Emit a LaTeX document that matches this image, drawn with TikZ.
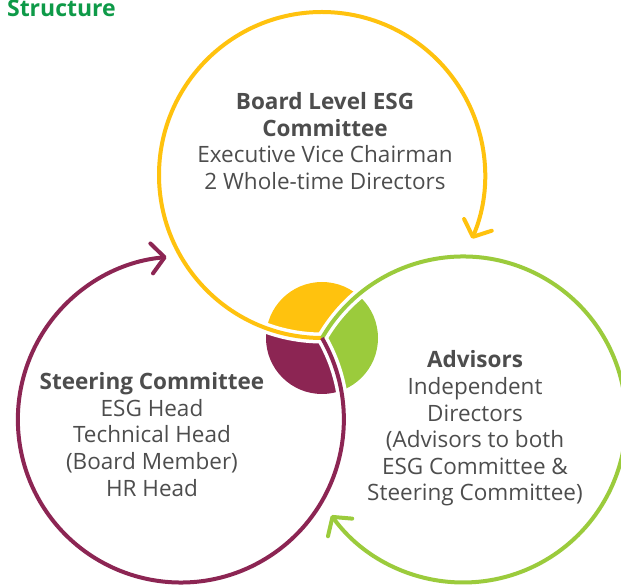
\documentclass[tikz,border=0pt]{standalone}
\usepackage{fontspec}
\setmainfont{Open Sans}
\usetikzlibrary{arrows.meta}

\definecolor{esgyellow}{HTML}{FFC20E}
\definecolor{esggreen}{HTML}{9BCB3C}
\definecolor{esgmaroon}{HTML}{8C2553}
\definecolor{esgtext}{HTML}{4D4D4D}
\definecolor{esgtitle}{HTML}{0E9A48}

\begin{document}
\begin{tikzpicture}[
        x=1pt, y=1pt,
        ring/.style={line width=4pt, -{Straight Barb[length=13pt, width=30pt, line cap=round, line join=round]}},
        ringgap/.style={white, line width=11pt},
        ringtext/.style={text=esgtext, align=center, font=\fontsize{22.5}{26.6}\selectfont},
        ]
        \useasboundingbox (0,0) rectangle (621,586);

        \node[anchor=base east, inner sep=0pt, text=esgtitle, font=\bfseries\fontsize{23}{23}\selectfont] (title) at (116,569) {Structure};

        \coordinate (hub) at (322,248);
        \coordinate (board) at ([shift={(90:163pt)}]hub);
        \coordinate (advisor) at ([shift={(-30:163pt)}]hub);
        \coordinate (steer) at ([shift={(210:163pt)}]hub);

        % the three parts of the small disc in the middle
        \begin{scope}
        \clip (hub) circle (56pt);
        \clip (board) circle (163pt);
        \fill[esgyellow, even odd rule] (hub) circle (80pt) (advisor) circle (163pt);
        \end{scope}
        \begin{scope}
        \clip (hub) circle (56pt);
        \clip (advisor) circle (163pt);
        \fill[esggreen, even odd rule] (hub) circle (80pt) (steer) circle (163pt);
        \end{scope}
        \begin{scope}
        \clip (hub) circle (56pt);
        \clip (steer) circle (163pt);
        \fill[esgmaroon, even odd rule] (hub) circle (80pt) (board) circle (163pt);
        \end{scope}

        \draw[ringgap] (hub) arc[start angle=270, end angle=-23, radius=163pt];
        \draw[ringgap] (hub) arc[start angle=150, end angle=-144, radius=163pt];
        \draw[ringgap] (hub) arc[start angle=30, end angle=-265, radius=163pt];

        \draw[ring, esgyellow] (hub) arc[start angle=270, end angle=-23, radius=163pt];
        \draw[ring, esggreen] (hub) arc[start angle=150, end angle=-144, radius=163pt];
        \draw[ring, esgmaroon] (hub) arc[start angle=30, end angle=-265, radius=163pt];

        \node[ringtext] (boardtxt) at (325,445) {\textbf{Board Level ESG}\\\textbf{Committee}\\Executive Vice Chairman\\2 Whole-time Directors};
        \node[ringtext] (steertxt) at (152,151.5) {\textbf{Steering Committee}\\ESG Head\\Technical Head\\(Board Member)\\HR Head};
        \node[ringtext] (advisortxt) at (475,157.5) {\textbf{Advisors}\\Independent\\Directors\\(Advisors to both\\ESG Committee \&\\Steering Committee)};
\end{tikzpicture}
\end{document}
